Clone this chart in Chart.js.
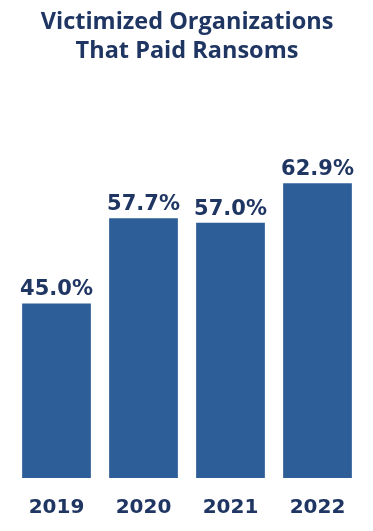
<!DOCTYPE html>
<html>
<head>
<meta charset="utf-8">
<script src="https://cdn.jsdelivr.net/npm/chart.js@4"></script>
<style>
  html, body { margin: 0; padding: 0; background: #ffffff; }
  #wrap { width: 373px; height: 531px; position: relative; }
</style>
</head>
<body>
<div id="wrap"><canvas id="c" width="373" height="531"></canvas></div>
<script>
const titleLines = ["Victimized Organizations", "That Paid Ransoms"];
const years = ["2019", "2020", "2021", "2022"];
const paidPct = [45.0, 57.7, 57.0, 62.9];
const valueLabels = ["45.0%", "57.7%", "57.0%", "62.9%"];

const barColor = "#2e5e98";
const textColor = "#1f3562";

const valueLabelPlugin = {
  id: "valueLabels",
  afterDatasetsDraw(chart) {
    const ctx = chart.ctx;
    const meta = chart.getDatasetMeta(0);
    ctx.save();
    ctx.fillStyle = textColor;
    ctx.font = "bold 21px 'DejaVu Sans'";
    ctx.textAlign = "center";
    ctx.textBaseline = "alphabetic";
    meta.data.forEach((bar, i) => {
      ctx.fillText(valueLabels[i], bar.x, bar.y - 8);
    });
    ctx.restore();
  }
};

new Chart(document.getElementById("c"), {
  type: "bar",
  data: {
    labels: years,
    datasets: [{
      data: paidPct,
      backgroundColor: barColor,
      borderWidth: 0,
      categoryPercentage: 0.79,
      barPercentage: 1.0
    }]
  },
  options: {
    responsive: false,
    animation: false,
    devicePixelRatio: 1,
    layout: { padding: { left: 13, right: 12, top: 0, bottom: 0 } },
    plugins: {
      legend: { display: false },
      tooltip: { enabled: false },
      title: {
        display: true,
        text: titleLines,
        color: textColor,
        font: { family: "'Open Sans'", size: 23.5, weight: "bold", lineHeight: 1.234 },
        padding: { top: 8, bottom: 36 }
      }
    },
    scales: {
      x: {
        grid: { display: false, drawTicks: false },
        border: { display: false },
        afterFit(scale) { scale.height = 53; },
        ticks: {
          color: textColor,
          font: { family: "'DejaVu Sans'", size: 20, weight: "bold" },
          padding: 18
        }
      },
      y: {
        display: false,
        min: 19,
        max: 75
      }
    }
  },
  plugins: [valueLabelPlugin]
});
</script>
</body>
</html>
